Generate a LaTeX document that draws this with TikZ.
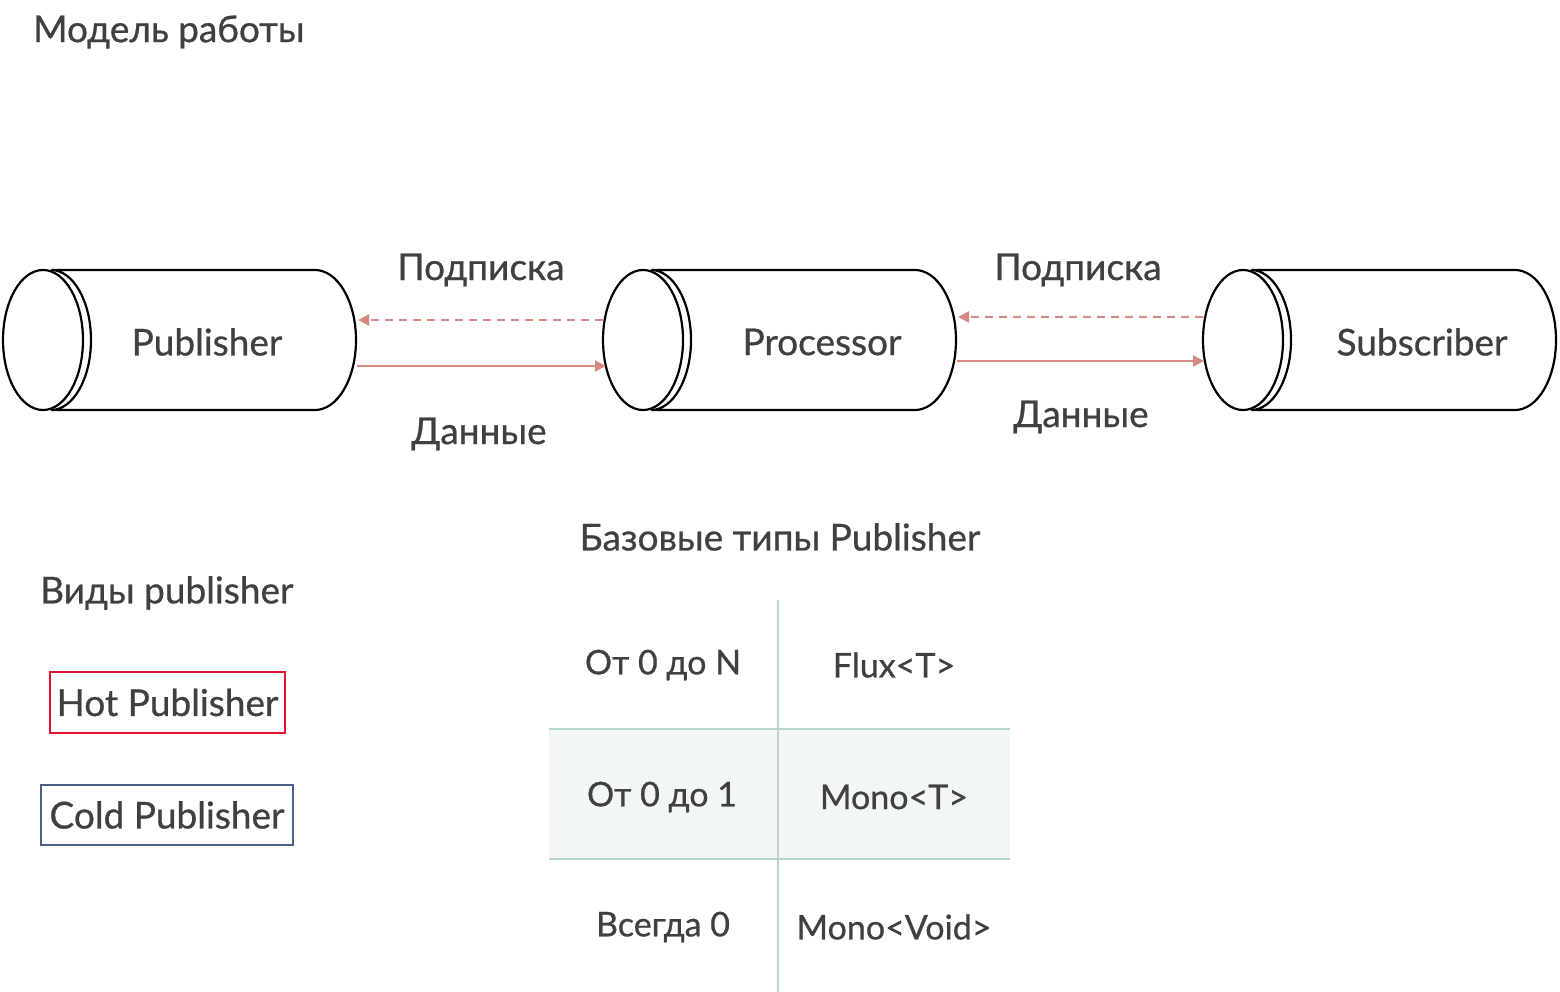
\documentclass[tikz,border=0pt]{standalone}
\usepackage{fontspec}
\setmainfont{Lato}[FakeBold=0.7]
\usepackage{tikz}
\usetikzlibrary{arrows.meta}
\definecolor{ink}{HTML}{404040}
\definecolor{flow}{HTML}{D48A80}
\definecolor{hotred}{HTML}{E0122F}
\definecolor{coldblue}{HTML}{4C5F86}
\definecolor{grid}{HTML}{B7D6CD}
\definecolor{rowfill}{HTML}{F2F6F4}

\begin{document}
\begin{tikzpicture}[
    x=1pt, y=1pt,
    >={Triangle[length=11pt,width=11pt]},
    cyl/.style={line width=2.2pt, black},
    flowline/.style={->, line width=2.2pt, flow},
    txt/.style={text=ink, inner sep=0pt, font=\fontsize{37}{42}\selectfont},
    cell/.style={txt, font=\fontsize{34}{40}\selectfont},
    gridline/.style={line width=2.6pt, grid}
]
\useasboundingbox (0,0) rectangle (1560,-992);

% Titel
\node[txt, anchor=west] (model) at (33,-32) {Модель работы};

% Cilindres
\foreach \cx/\name/\lx/\txt in {43/pub/207/Publisher, 643/proc/822/Processor, 1243/sub/1422/Subscriber}{
  \draw[cyl] (\cx,-340) ellipse [x radius=40, y radius=70];
  \draw[cyl] (\cx+8,-270) -- (\cx+272,-270)
      arc[start angle=90, end angle=-90, x radius=41, y radius=70]
      -- (\cx+8,-410)
      arc[start angle=-90, end angle=90, x radius=40, y radius=70];
  \coordinate (\name-l) at (\cx-40,-340);
  \coordinate (\name-r) at (\cx+313,-340);
  \node[txt] (\name) at (\lx,-342) {\txt};
}

% Subscripcio i dades
\draw[flowline, dashed, dash pattern=on 8pt off 6pt]
    ([yshift=20]proc-l) -- ([yshift=20, xshift=2]pub-r);
\draw[flowline]
    ([yshift=-26, xshift=1]pub-r) -- ([yshift=-26, xshift=3]proc-l);
\draw[flowline, dashed, dash pattern=on 8pt off 6pt]
    ([yshift=23]sub-l) -- ([yshift=23, xshift=2]proc-r);
\draw[flowline]
    ([yshift=-21, xshift=1]proc-r) -- ([yshift=-21, xshift=1]sub-l);

\node[txt] (sub1) at (481,-270) {Подписка};
\node[txt] (data1) at (479,-434) {Данные};
\node[txt] (sub2) at (1078,-270) {Подписка};
\node[txt] (data2) at (1081,-417) {Данные};

% Tipus de publisher
\node[txt, anchor=west] (kinds) at (40,-593) {Виды publisher};
\node[txt, draw=hotred, line width=2pt, minimum width=235pt, minimum height=61pt] (hot) at (167.5,-702.5) {Hot Publisher};
\node[txt, draw=coldblue, line width=1.6pt, minimum width=252pt, minimum height=60pt] (cold) at (167,-815) {Cold Publisher};

% Taula
\node[txt] (types) at (780,-537) {Базовые типы Publisher};
\fill[rowfill] (549,-729) rectangle (1010,-859);
\draw[gridline] (778,-600) -- (778,-992);
\draw[gridline] (549,-729) -- (1010,-729);
\draw[gridline] (549,-859) -- (1010,-859);

\node[cell] (n1) at (663,-665) {От 0 до N};
\node[cell] (t1) at (894,-665) {Flux<T>};
\node[cell] (n2) at (662,-797) {От 0 до 1};
\node[cell] (t2) at (894,-797) {Mono<T>};
\node[cell] (n3) at (663,-927) {Всегда 0};
\node[cell] (t3) at (894,-927) {Mono<Void>};

\end{tikzpicture}
\end{document}
